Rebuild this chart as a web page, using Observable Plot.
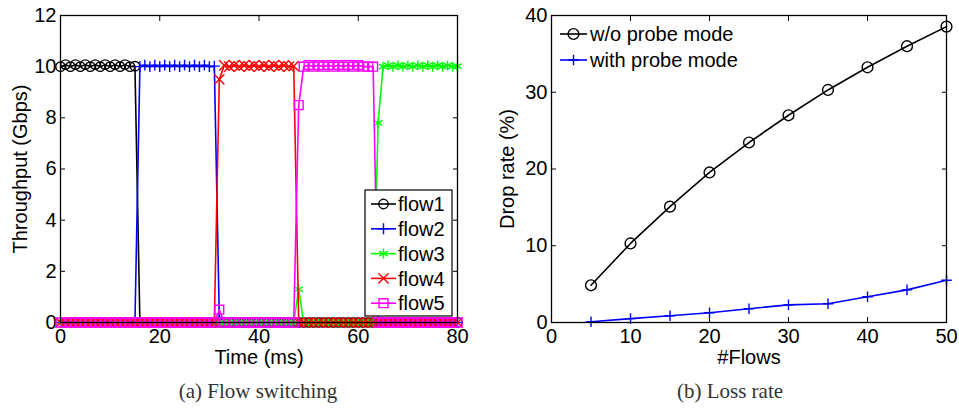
<!DOCTYPE html>
<html>
<head>
<meta charset="utf-8">
<script src="https://cdn.jsdelivr.net/npm/d3@7"></script>
<script src="https://cdn.jsdelivr.net/npm/@observablehq/plot@0.6"></script>
<style>
  html, body { margin: 0; padding: 0; background: #fff; }
  #wrap { position: relative; width: 959px; height: 410px; background: #fff; overflow: hidden; }
  .panel { position: absolute; top: 0; }
  .panel svg { overflow: visible; }
  .cap { position: absolute; font-family: "Liberation Serif", "DejaVu Serif", serif; font-size: 21px; color: #333; white-space: nowrap; transform: translateX(-50%); line-height: 1; }
</style>
</head>
<body>
<div id="wrap">
  <div id="pa" class="panel" style="left:0px;width:480px"></div>
  <div id="pb" class="panel" style="left:480px;width:479px"></div>
  <div class="cap" style="left:258px;top:381px">(a) Flow switching</div>
  <div class="cap" style="left:730px;top:381px">(b) Loss rate</div>
</div>
<script>
// ---------- Panel (a): Flow switching ----------
const time = [
  0,1,2,3,4,5,6,7,8,9,
  10,11,12,13,14,15,16,17,18,19,
  20,21,22,23,24,25,26,27,28,29,
  30,31,32,33,34,35,36,37,38,39,
  40,41,42,43,44,45,46,47,48,49,
  50,51,52,53,54,55,56,57,58,59,
  60,61,62,63,64,65,66,67,68,69,
  70,71,72,73,74,75,76,77,78,79,
  80
];
const flow1 = [
  10,10.08,10,10.08,10,10.08,10,10.08,10,10.08,
  10,10.08,10,10.08,10,10.02,0,0,0,0,
  0,0,0,0,0,0,0,0,0,0,
  0,0,0,0,0,0,0,0,0,0,
  0,0,0,0,0,0,0,0,0,0,
  0,0,0,0,0,0,0,0,0,0,
  0,0,0,0,0,0,0,0,0,0,
  0,0,0,0,0,0,0,0,0,0,
  0
];
const flow2 = [
  0,0,0,0,0,0,0,0,0,0,
  0,0,0,0,0,0,10,10.06,10,10.06,
  10,10.06,10,10.06,10,10.06,10,10.06,10,10.06,
  10,10.02,0.2,0,0,0,0,0,0,0,
  0,0,0,0,0,0,0,0,0,0,
  0,0,0,0,0,0,0,0,0,0,
  0,0,0,0,0,0,0,0,0,0,
  0,0,0,0,0,0,0,0,0,0,
  0
];
const flow3 = [
  0,0,0,0,0,0,0,0,0,0,
  0,0,0,0,0,0,0,0,0,0,
  0,0,0,0,0,0,0,0,0,0,
  0,0,0,0,0,0,0,0,0,0,
  0,0,0,0,0,0,0,0,1.3,0,
  0,0,0,0,0,0,0,0,0,0,
  0,0,0,0,7.8,10,10.05,10,10.05,10,
  10.05,10,10.05,10,10.05,10,10.05,10,10.05,10,
  10.02
];
const flow4 = [
  0,0,0,0,0,0,0,0,0,0,
  0,0,0,0,0,0,0,0,0,0,
  0,0,0,0,0,0,0,0,0,0,
  0,0,9.5,10.05,10,10.05,10,10.05,10,10.05,
  10,10.05,10,10.05,10,10.05,10,10.02,0,0,
  0,0,0,0,0,0,0,0,0,0,
  0,0,0,0,0,0,0,0,0,0,
  0,0,0,0,0,0,0,0,0,0,
  0
];
const flow5 = [
  0,0,0,0,0,0,0,0,0,0,
  0,0,0,0,0,0,0,0,0,0,
  0,0,0,0,0,0,0,0,0,0,
  0,0,0.5,0,0,0,0,0,0,0,
  0,0,0,0,0,0,0,0,8.5,10,
  10.06,10,10.06,10,10.06,10,10.06,10,10.06,10,
  10.06,10,10,10,0,0,0,0,0,0,
  0,0,0,0,0,0,0,0,0,0,
  0
];
const flowNames = ["flow1","flow2","flow3","flow4","flow5"];
const flowColors = ["#000000","#0000ff","#00ff00","#ff0000","#ff00ff"];
const flowSymbols = ["circle","plus","asterisk","times","square"];
const flowRadii = [4.7, 3.6, 4.7, 4.7, 5.0];
const timeTicks = [0,20,40,60,80];
const throughputTicks = [0,2,4,6,8,10,12];

// ---------- Panel (b): Loss rate ----------
const numFlows = [5,10,15,20,25,30,35,40,45,50];
const dropWithout = [4.85,10.3,15.1,19.55,23.45,27.0,30.3,33.25,36.0,38.55];
const dropWith = [0.1,0.5,0.88,1.27,1.8,2.3,2.45,3.35,4.25,5.5];
const seriesNames = ["w/o probe mode","with probe mode"];
const seriesColors = ["#000000","#0000ff"];
const seriesSymbols = ["circle","plus"];
const seriesRadii = [5.4, 3.5];
const flowTicks = [0,10,20,30,40,50];
const dropTicks = [0,10,20,30,40];

const FONT = "Liberation Sans, Arial, Helvetica, sans-serif";
const symbolMap = {circle: d3.symbolCircle, plus: d3.symbolPlus, asterisk: d3.symbolAsterisk, times: d3.symbolTimes, square: d3.symbolSquare};

function axes(xt, yt, xl, yl, xlo, ylo) {
  return [
    Plot.axisX({anchor: "bottom", ticks: xt, tickSize: -5, tickPadding: 11, label: xl, labelAnchor: "center", labelArrow: "none", labelOffset: xlo}),
    Plot.axisX({anchor: "top", ticks: xt, tickSize: -5, tickFormat: () => "", label: null}),
    Plot.axisY({anchor: "left", ticks: yt, tickSize: -5, tickPadding: 9, label: yl, labelAnchor: "center", labelArrow: "none", labelOffset: ylo}),
    Plot.axisY({anchor: "right", ticks: yt, tickSize: -5, tickFormat: () => "", label: null})
  ];
}

// Panel (a)
const flowSeries = [flow1, flow2, flow3, flow4, flow5];
const flowMarks = [];
flowSeries.forEach((vals, i) => {
  const rows = time.map((t, j) => ({t, v: vals[j]}));
  flowMarks.push(Plot.line(rows, {x: "t", y: "v", stroke: flowColors[i], strokeWidth: 1.6}));
  flowMarks.push(Plot.dot(rows, {x: "t", y: "v", stroke: flowColors[i], fill: "none", symbol: flowSymbols[i], r: flowRadii[i], strokeWidth: 1.4}));
});

const plotA = Plot.plot({
  width: 480, height: 370,
  marginLeft: 60, marginRight: 23, marginTop: 15, marginBottom: 48,
  style: {fontFamily: FONT, fontSize: "20px", background: "transparent", overflow: "visible", color: "#000"},
  x: {domain: [0, 80]},
  y: {domain: [0, 12]},
  marks: [
    ...axes(timeTicks, throughputTicks, "Time (ms)", "Throughput (Gbps)", 41, 48),
    ...flowMarks,
    Plot.frame({stroke: "#000", strokeWidth: 1.3})
  ]
});
document.getElementById("pa").appendChild(plotA);

// Legend (a)
{
  const svg = d3.select(plotA);
  const g = svg.append("g").attr("font-family", FONT).attr("font-size", 20).attr("text-anchor", "start");
  g.append("rect").attr("x", 365).attr("y", 190).attr("width", 87).attr("height", 126)
    .attr("fill", "#fff").attr("stroke", "#000").attr("stroke-width", 1.2);
  flowNames.forEach((name, i) => {
    const y = 204 + i * 24.8;
    g.append("line").attr("x1", 371).attr("x2", 396).attr("y1", y).attr("y2", y)
      .attr("stroke", flowColors[i]).attr("stroke-width", 1.6);
    const r = flowRadii[i];
    g.append("path").attr("transform", `translate(383.5,${y})`)
      .attr("d", d3.symbol(symbolMap[flowSymbols[i]], Math.PI * r * r)())
      .attr("fill", "none").attr("stroke", flowColors[i]).attr("stroke-width", 1.4);
    g.append("text").attr("x", 398).attr("y", y).attr("dy", "0.36em").attr("fill", "#000").text(name);
  });
}

// Panel (b)
const seriesData = [dropWithout, dropWith];
const lossMarks = [];
seriesData.forEach((vals, i) => {
  const rows = numFlows.map((n, j) => ({n, v: vals[j]}));
  lossMarks.push(Plot.line(rows, {x: "n", y: "v", stroke: seriesColors[i], strokeWidth: 1.6}));
  lossMarks.push(Plot.dot(rows, {x: "n", y: "v", stroke: seriesColors[i], fill: "none", symbol: seriesSymbols[i], r: seriesRadii[i], strokeWidth: 1.4}));
});

const plotB = Plot.plot({
  width: 479, height: 370,
  marginLeft: 71, marginRight: 13, marginTop: 15, marginBottom: 48,
  style: {fontFamily: FONT, fontSize: "20px", background: "transparent", overflow: "visible", color: "#000"},
  x: {domain: [0, 50]},
  y: {domain: [0, 40]},
  marks: [
    ...axes(flowTicks, dropTicks, "#Flows", "Drop rate (%)", 41, 52),
    ...lossMarks,
    Plot.frame({stroke: "#000", strokeWidth: 1.3})
  ]
});
document.getElementById("pb").appendChild(plotB);

// Legend (b)
{
  const svg = d3.select(plotB);
  const g = svg.append("g").attr("font-family", FONT).attr("font-size", 20).attr("text-anchor", "start");
  seriesNames.forEach((name, i) => {
    const y = 34 + i * 26;
    g.append("line").attr("x1", 80).attr("x2", 107).attr("y1", y).attr("y2", y)
      .attr("stroke", seriesColors[i]).attr("stroke-width", 1.6);
    const r = seriesRadii[i];
    g.append("path").attr("transform", `translate(93.5,${y})`)
      .attr("d", d3.symbol(symbolMap[seriesSymbols[i]], Math.PI * r * r)())
      .attr("fill", "none").attr("stroke", seriesColors[i]).attr("stroke-width", 1.4);
    g.append("text").attr("x", 110).attr("y", y).attr("dy", "0.36em").attr("fill", "#000").text(name);
  });
}
</script>
</body>
</html>
